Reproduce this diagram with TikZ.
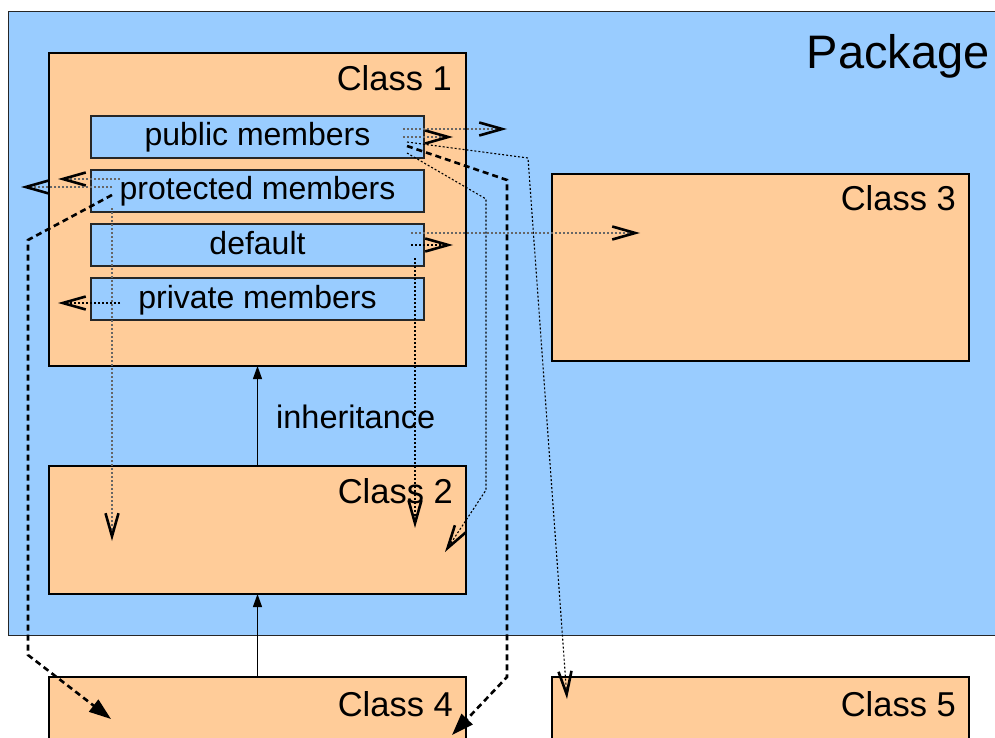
\documentclass[tikz,border=0pt]{standalone}
\usepackage{fontspec}
\setmainfont{Liberation Sans}
\usetikzlibrary{arrows.meta}
\definecolor{pkgblue}{HTML}{99CCFF}
\definecolor{classorange}{HTML}{FFCC99}
\definecolor{dotgrey}{HTML}{666666}
\begin{document}
\begin{tikzpicture}[x=1pt,y=-1pt,
  pkgbox/.style={draw=black!85, line width=1pt, fill=pkgblue, inner sep=0pt, outer sep=0pt, anchor=north west},
  classbox/.style={draw=black, line width=1.2pt, fill=classorange, inner sep=0pt, outer sep=0pt, anchor=north west, minimum width=417pt},
  memberbox/.style={draw=black!85, line width=1.2pt, fill=pkgblue, inner sep=0pt, outer sep=0pt, anchor=north west,
    minimum width=333pt, minimum height=42pt, text height=23pt, text depth=5pt, font=\fontsize{32}{36}\selectfont},
  classlbl/.style={anchor=base east, inner sep=0pt, font=\fontsize{34.5}{40}\selectfont},
  pkglbl/.style={anchor=base east, inner sep=0pt, font=\fontsize{47}{52}\selectfont},
  inhlbl/.style={anchor=base west, inner sep=0pt, font=\fontsize{32.5}{36}\selectfont},
  inh/.style={draw=black, line width=1.2pt, -{Triangle[length=13pt,width=9pt]}},
  finedot/.style={line width=1.1pt, dash pattern=on 2pt off 2pt},
  greydot/.style={finedot, draw=dotgrey},
  blackdot/.style={finedot, draw=black},
  chev/.style={-{Straight Barb[length=23pt,width=13pt,line width=2.6pt,color=black]}},
  heavydash/.style={draw=black, line width=2.6pt, dash pattern=on 6pt off 4pt,
    -{Triangle[length=22pt,width=15pt]}},
]
\clip (0,0) rectangle (995,738);
\fill[white] (0,0) rectangle (995,738);

% package and classes
\node[pkgbox, minimum width=1000pt, minimum height=623pt] (pkg) at (8,12) {};
\node[pkglbl] (pkgname) at (990,69) {Package};

\node[classbox, minimum height=313pt] (c1) at (49,53) {};
\node[classbox, minimum height=128pt] (c2) at (49,466) {};
\node[classbox, minimum height=187pt] (c3) at (552,174) {};
\node[classbox, minimum height=110pt] (c4) at (49,677) {};
\node[classbox, minimum height=110pt] (c5) at (552,677) {};

\node[classlbl] (c1name) at (452,91) {Class 1};
\node[classlbl] (c2name) at (453,503) {Class 2};
\node[classlbl] (c3name) at (956,211) {Class 3};
\node[classlbl] (c4name) at (453,716) {Class 4};
\node[classlbl] (c5name) at (956,716) {Class 5};

% member sections of Class 1
\node[memberbox] (pub)  at (91,116) {public members};
\node[memberbox] (prot) at (91,170) {protected members};
\node[memberbox] (dflt) at (91,224) {default};
\node[memberbox] (priv) at (91,278) {private members};

% inheritance
\draw[inh] (c2.north) -- (c1.south);
\draw[inh] (c4.north) -- (c2.south);
\node[inhlbl] (inhname) at (276,428) {inheritance};

% connector end points
\coordinate (pubA)  at (403,129); \coordinate (pubAe) at (507,129);
\coordinate (pubB)  at (403,137); \coordinate (pubBe) at (453,137);
\coordinate (pubC)  at (407,142); \coordinate (pubCk) at (528,158); \coordinate (pubCe) at (567,699);
\coordinate (pubD)  at (407,146); \coordinate (pubDk) at (507,180); \coordinate (pubDl) at (507,677); \coordinate (pubDe) at (452,735);
\coordinate (pubE)  at (407,153); \coordinate (pubEk) at (486,199); \coordinate (pubEl) at (486,490); \coordinate (pubEe) at (445,552);
\coordinate (dfA)   at (411,233); \coordinate (dfAe)  at (640,233);
\coordinate (dfB)   at (411,245); \coordinate (dfBe)  at (453,245);
\coordinate (dfC)   at (415,258); \coordinate (dfCe)  at (415,528);
\coordinate (prA)   at (120,179); \coordinate (prAe)  at (58,179);
\coordinate (prB)   at (112,187); \coordinate (prBe)  at (21,187);
\coordinate (prC)   at (112,195); \coordinate (prCk)  at (28,240); \coordinate (prCl) at (28,655); \coordinate (prCe) at (111,719);
\coordinate (prD)   at (112,208); \coordinate (prDe)  at (112,541);
\coordinate (pvA)   at (120,303); \coordinate (pvAe)  at (58,303);

% public members
\draw[greydot, chev] (pubA) -- (pubAe);
\draw[greydot, chev] (pubB) -- (pubBe);
\draw[blackdot, chev] (pubC) -- (pubCk) -- (pubCe);
\draw[heavydash] (pubD) -- (pubDk) -- (pubDl) -- (pubDe);
\draw[blackdot, chev] (pubE) -- (pubEk) -- (pubEl) -- (pubEe);

% default
\draw[greydot, chev] (dfA) -- (dfAe);
\draw[blackdot, chev] (dfB) -- (dfBe);
\draw[blackdot, chev] (dfC) -- (dfCe);

% protected members
\draw[greydot, chev] (prA) -- (prAe);
\draw[greydot, chev] (prB) -- (prBe);
\draw[heavydash] (prC) -- (prCk) -- (prCl) -- (prCe);
\draw[greydot, chev] (prD) -- (prDe);

% private members
\draw[blackdot, chev] (pvA) -- (pvAe);
\end{tikzpicture}
\end{document}
